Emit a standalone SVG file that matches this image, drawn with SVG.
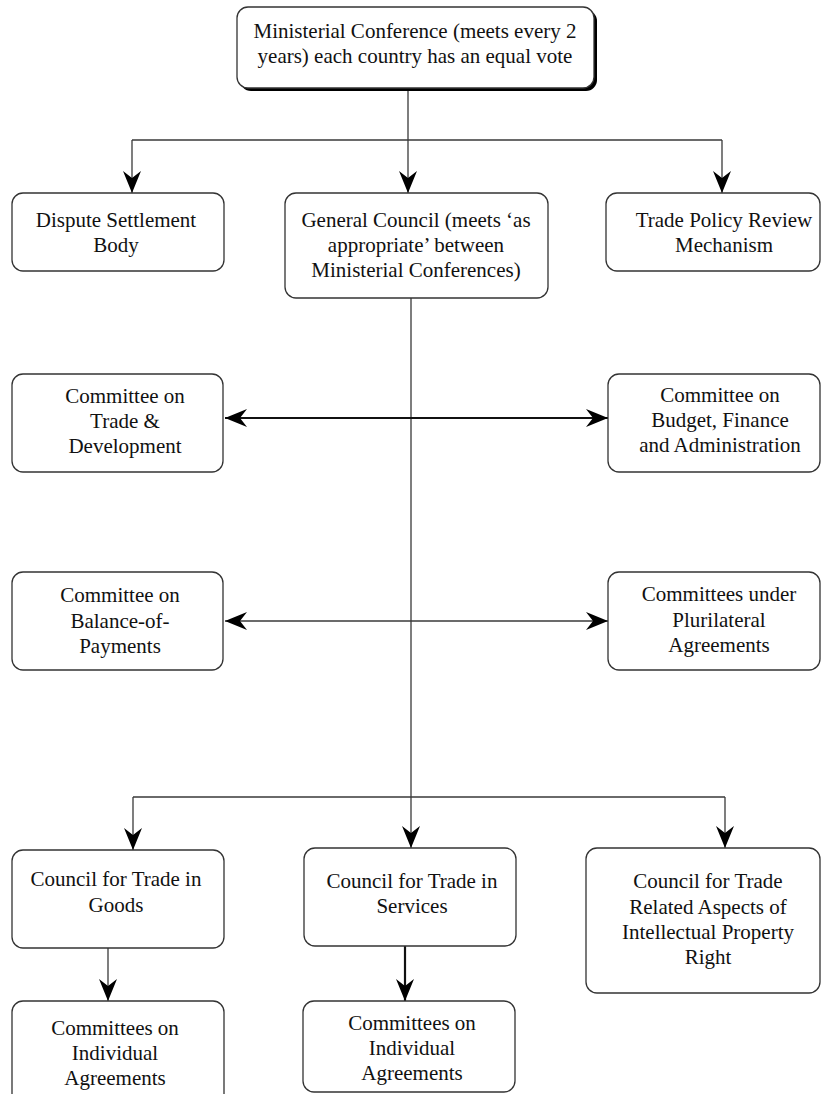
<svg xmlns="http://www.w3.org/2000/svg" width="821" height="1094" viewBox="0 0 821 1094">
<style>
.box{fill:#fff;stroke:#333;stroke-width:1.3}
.ln{fill:none;stroke:#3a3a3a;stroke-width:1.3}
.thk{fill:none;stroke:#111;stroke-width:2.2}
text{font-family:"Liberation Serif","Times New Roman",serif;font-size:21px;fill:#111;text-anchor:middle}
</style>
<defs>
<marker id="ah" markerUnits="userSpaceOnUse" viewBox="-24 -11 26 22" refX="0" refY="0" markerWidth="26" markerHeight="22" orient="auto-start-reverse">
<path d="M0,0 L-22,-9 L-15,0 L-22,9 Z" fill="#000"/>
</marker>
</defs>
<rect width="821" height="1094" fill="#fff"/>
<g id="connectors">
<path class="ln" d="M408,88 V140 M132,140 H722"/>
<path class="ln" d="M132,140 V193" marker-end="url(#ah)"/>
<path class="ln" d="M408,140 V193" marker-end="url(#ah)"/>
<path class="ln" d="M722,140 V193" marker-end="url(#ah)"/>
<path class="ln" d="M411,298 V797 M133,797 H725"/>
<path class="thk" d="M225,418 H608" marker-start="url(#ah)" marker-end="url(#ah)"/>
<path class="ln" d="M225,621 H608" marker-start="url(#ah)" marker-end="url(#ah)"/>
<path class="ln" d="M133,797 V850" marker-end="url(#ah)"/>
<path class="ln" d="M411,797 V848" marker-end="url(#ah)"/>
<path class="ln" d="M725,797 V848" marker-end="url(#ah)"/>
<path class="ln" d="M108,948 V1001" marker-end="url(#ah)"/>
<path class="thk" d="M405,946 V1001" marker-end="url(#ah)"/>
</g>
<g id="ministerial">
<rect x="240" y="10" width="357" height="81" rx="11" fill="#000"/>
<rect class="box" x="237" y="7" width="357" height="81" rx="11"/>
<text x="415" y="38">Ministerial Conference (meets every 2</text>
<text x="415" y="63">years) each country has an equal vote</text>
</g>
<g id="dispute">
<rect class="box" x="12" y="193" width="212" height="78" rx="11"/>
<text x="116" y="227">Dispute Settlement</text>
<text x="116" y="252">Body</text>
</g>
<g id="general">
<rect class="box" x="285" y="193" width="263" height="105" rx="11"/>
<text x="416" y="227">General Council (meets ‘as</text>
<text x="416" y="252">appropriate’ between</text>
<text x="416" y="277">Ministerial Conferences)</text>
</g>
<g id="tprm">
<rect class="box" x="606" y="193" width="214" height="78" rx="11"/>
<text x="724" y="227">Trade Policy Review</text>
<text x="724" y="252">Mechanism</text>
</g>
<g id="ctd">
<rect class="box" x="12" y="374" width="211" height="98" rx="11"/>
<text x="125" y="403">Committee on</text>
<text x="125" y="428">Trade &amp;</text>
<text x="125" y="453">Development</text>
</g>
<g id="bfa">
<rect class="box" x="608" y="374" width="212" height="98" rx="11"/>
<text x="720" y="402">Committee on</text>
<text x="720" y="427">Budget, Finance</text>
<text x="720" y="452">and Administration</text>
</g>
<g id="bop">
<rect class="box" x="12" y="572" width="211" height="98" rx="11"/>
<text x="120" y="602">Committee on</text>
<text x="120" y="628">Balance-of-</text>
<text x="120" y="653">Payments</text>
</g>
<g id="pluri">
<rect class="box" x="608" y="572" width="212" height="98" rx="11"/>
<text x="719" y="601">Committees under</text>
<text x="719" y="627">Plurilateral</text>
<text x="719" y="652">Agreements</text>
</g>
<g id="goods">
<rect class="box" x="12" y="850" width="212" height="98" rx="11"/>
<text x="116" y="886">Council for Trade in</text>
<text x="116" y="912">Goods</text>
</g>
<g id="services">
<rect class="box" x="304" y="848" width="212" height="98" rx="11"/>
<text x="412" y="888">Council for Trade in</text>
<text x="412" y="913">Services</text>
</g>
<g id="trips">
<rect class="box" x="586" y="848" width="234" height="145" rx="11"/>
<text x="708" y="888">Council for Trade</text>
<text x="708" y="914">Related Aspects of</text>
<text x="708" y="939">Intellectual Property</text>
<text x="708" y="964">Right</text>
</g>
<g id="committees-goods">
<rect class="box" x="12" y="1001" width="212" height="110" rx="11"/>
<text x="115" y="1035">Committees on</text>
<text x="115" y="1060">Individual</text>
<text x="115" y="1085">Agreements</text>
</g>
<g id="committees-services">
<rect class="box" x="303" y="1001" width="212" height="91" rx="11"/>
<text x="412" y="1030">Committees on</text>
<text x="412" y="1055">Individual</text>
<text x="412" y="1080">Agreements</text>
</g>
</svg>
